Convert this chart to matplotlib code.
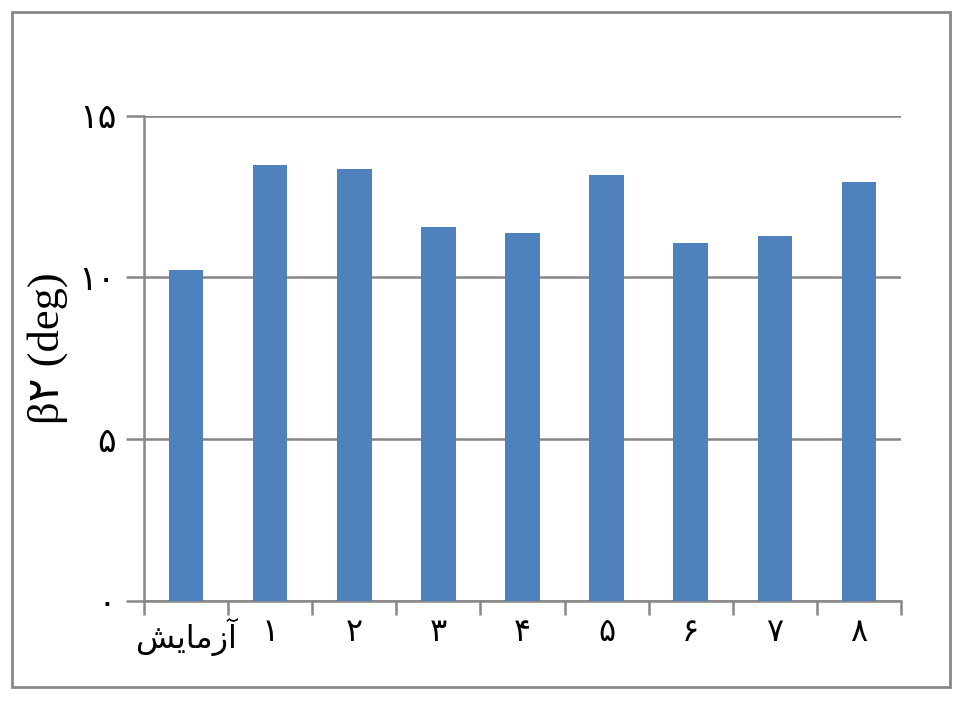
import matplotlib
matplotlib.use('Agg')
import matplotlib.pyplot as plt
from matplotlib.patches import Rectangle

# values
categories = ['آزمایش', '۱', '۲', '۳', '۴', '۵', '۶', '۷', '۸']
beta2 = [10.22, 13.46, 13.35, 11.57, 11.37, 13.15, 11.06, 11.27, 12.94]
y_ticks = [0, 5, 10, 15]
y_tick_labels = ['۰', '۵', '۱۰', '۱۵']

# presentation forms for the one arabic-script word (matplotlib does no shaping)
forms = {'آ': ('\uFE81', '\uFE81', '\uFE82', '\uFE82'),
         'ز': ('\uFEAF', '\uFEAF', '\uFEB0', '\uFEB0'),
         'م': ('\uFEE1', '\uFEE3', '\uFEE4', '\uFEE2'),
         'ا': ('\uFE8D', '\uFE8D', '\uFE8E', '\uFE8E'),
         'ی': ('\uFBFC', '\uFBFE', '\uFBFF', '\uFBFD'),
         'ش': ('\uFEB5', '\uFEB7', '\uFEB8', '\uFEB6')}
non_joining_left = set('آزادذرو')


def shape(word):
    if not any(c in forms for c in word):
        return word
    out = []
    for i, c in enumerate(word):
        prev_joins = i > 0 and word[i - 1] in forms and word[i - 1] not in non_joining_left
        next_joins = i < len(word) - 1 and word[i + 1] in forms and c not in non_joining_left
        idx = {(False, False): 0, (False, True): 1, (True, True): 2, (True, False): 3}[(prev_joins, next_joins)]
        out.append(forms[c][idx])
    return ''.join(reversed(out))


fam = ['Liberation Sans', 'DejaVu Sans']
grey = '#878787'

fig = plt.figure(figsize=(9.68, 7.03), dpi=100)
fig.patches.append(Rectangle((12 / 968, 16 / 703), 938 / 968, 675 / 703, transform=fig.transFigure,
                             fill=False, edgecolor=grey, linewidth=2))
ax = fig.add_axes([144 / 968, 1 - 601 / 703, 757 / 968, 485.5 / 703])

x = list(range(len(categories)))
ax.bar(x, beta2, width=0.41, color='#4F81BD', zorder=3)

ax.set_xlim(-0.5, len(categories) - 0.5)
ax.set_ylim(0, 15)
ax.set_yticks(y_ticks)
ax.set_yticklabels(y_tick_labels, family=fam, fontsize=25)
ax.yaxis.grid(True, color=grey, linewidth=1.8, zorder=0)
ax.tick_params(axis='y', length=13, width=1.8, color=grey, pad=7)

ax.set_xticks(x)
ax.set_xticklabels([shape(c) for c in categories], family=fam, fontsize=23)
ax.set_xticks([i - 0.5 for i in range(len(categories) + 1)], minor=True)
ax.tick_params(axis='x', which='major', length=0, pad=12)
ax.tick_params(axis='x', which='minor', length=10, width=1.8, color=grey)

for side in ['top', 'right']:
    ax.spines[side].set_visible(False)
for side in ['left', 'bottom']:
    ax.spines[side].set_color(grey)
    ax.spines[side].set_linewidth(1.8)

ax.set_ylabel('β۲ (deg)', family=['Liberation Serif', 'DejaVu Sans'], fontsize=32, labelpad=8)
ax.yaxis.set_label_coords(-0.1, 0.52)

fig.savefig('out.png', dpi=100)
